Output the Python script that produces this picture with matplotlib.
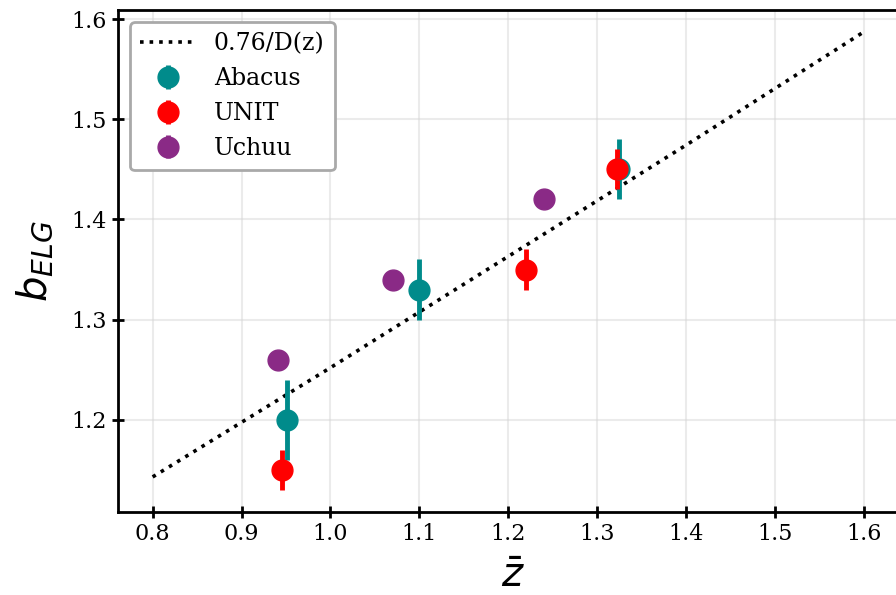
import matplotlib
matplotlib.use('Agg')
import matplotlib.pyplot as plt

plt.rcParams['font.family'] = 'DejaVu Serif'

# 0.76/D(z) curve
line_z = [0.8, 1.0, 1.2, 1.4, 1.6]
line_b = [1.143, 1.252, 1.363, 1.474, 1.587]

abacus_z = [0.951, 1.100, 1.325]
abacus_b = [1.20, 1.33, 1.45]
abacus_err = [0.04, 0.03, 0.03]

unit_z = [0.945, 1.220, 1.322]
unit_b = [1.15, 1.35, 1.45]
unit_err = [0.02, 0.02, 0.02]

uchuu_z = [0.941, 1.070, 1.240]
uchuu_b = [1.26, 1.34, 1.42]
uchuu_err = [0.005, 0.005, 0.005]

x_ticks = [0.8, 0.9, 1.0, 1.1, 1.2, 1.3, 1.4, 1.5, 1.6]
y_ticks = [1.2, 1.3, 1.4, 1.5, 1.6]

fig = plt.figure(figsize=(8.96, 5.95), dpi=100)
ax = fig.add_axes([0.1317, 0.1395, 0.8817, 0.8437])

ax.plot(line_z, line_b, ':', color='black', lw=2.6, label='0.76/D(z)')
ax.errorbar(abacus_z, abacus_b, yerr=abacus_err, fmt='o', color='#008b8b',
            ms=15, elinewidth=3.5, label='Abacus')
ax.errorbar(unit_z, unit_b, yerr=unit_err, fmt='o', color='red',
            ms=15, elinewidth=3.5, label='UNIT')
ax.errorbar(uchuu_z, uchuu_b, yerr=uchuu_err, fmt='o', color='#8a2a86',
            ms=15, elinewidth=3.5, label='Uchuu')

ax.set_xlim(0.761, 1.65)
ax.set_ylim(1.108, 1.609)
ax.set_xticks(x_ticks)
ax.set_yticks(y_ticks)
ax.grid(True, color='lightgray', alpha=0.45, lw=1.5)
ax.set_axisbelow(True)

for s in ax.spines.values():
    s.set_linewidth(2)
ax.tick_params(direction='inout', length=9, width=2, labelsize=16)

ax.set_xlabel(r'$\bar{z}$', fontsize=29, labelpad=9)
ax.set_ylabel(r'$b_{ELG}$', fontsize=29, labelpad=12)

leg = ax.legend(loc='upper left', fontsize=17, frameon=True, fancybox=True,
                borderpad=0.45, handlelength=2.3, labelspacing=0.5)
leg.get_frame().set_edgecolor('darkgray')
leg.get_frame().set_linewidth(2)
leg.get_frame().set_alpha(1.0)

fig.savefig('out.png', dpi=100)
